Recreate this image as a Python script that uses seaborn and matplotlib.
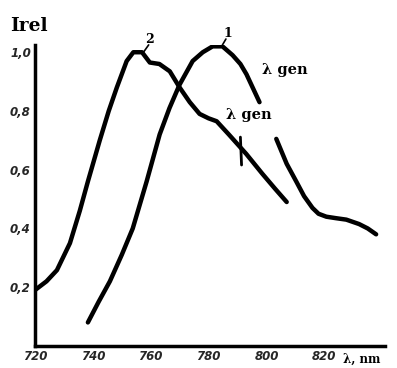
import matplotlib
matplotlib.use("Agg")
import matplotlib.pyplot as plt
import seaborn as sns
import pandas as pd
import numpy as np

# Curve 2 (left curve, peak ~755 nm)
c2_wl = [720, 724, 727.6, 732.1, 735.5, 738.3, 742.4, 745.5, 748.3, 751.7, 754, 757, 759.7, 763, 766.6, 770, 773.5, 776.9, 780, 782.8, 787, 793, 798.6, 803, 807]
c2_i = [0.19, 0.22, 0.258, 0.35, 0.46, 0.56, 0.70, 0.80, 0.88, 0.97, 1.0, 1.0, 0.965, 0.96, 0.935, 0.88, 0.83, 0.79, 0.775, 0.765, 0.72, 0.654, 0.586, 0.535, 0.49]

# Curve 1 (right curve, peak ~783 nm), drawn in two pieces around the label gap
c1a_wl = [738.3, 742, 745.9, 750, 753.8, 758.6, 763.1, 766.5, 770, 774.5, 778, 781.4, 784.8, 788.3, 791, 793.1, 797.6]
c1a_i = [0.08, 0.15, 0.22, 0.31, 0.40, 0.56, 0.72, 0.81, 0.89, 0.97, 1.0, 1.02, 1.02, 0.99, 0.96, 0.925, 0.83]
c1b_wl = [803.4, 807, 810.3, 813, 815.9, 818, 820.7, 824, 827.6, 832, 835, 837.9]
c1b_i = [0.705, 0.62, 0.56, 0.51, 0.47, 0.45, 0.44, 0.435, 0.43, 0.415, 0.40, 0.38]

lambda_gen_2 = 791.0

x_ticks = [720, 740, 760, 780, 800, 820]
x_tick_labels = ["720", "740", "760", "780", "800", "820"]
y_ticks = [0.2, 0.4, 0.6, 0.8, 1.0]
y_tick_labels = ["0,2", "0,4", "0,6", "0,8", "1,0"]

sns.set_theme(style="white")
plt.rcParams['font.family'] = ['DejaVu Sans']

fig = plt.figure(figsize=(3.97, 3.68), dpi=100)
ax = fig.add_axes([0.088, 0.06, 0.882, 0.818])

df2 = pd.DataFrame({"wl": c2_wl, "I": c2_i})
df1a = pd.DataFrame({"wl": c1a_wl, "I": c1a_i})
df1b = pd.DataFrame({"wl": c1b_wl, "I": c1b_i})
for d in (df2, df1a, df1b):
    sns.lineplot(data=d, x="wl", y="I", ax=ax, color="black", lw=3.2,
                 sort=False, estimator=None, solid_capstyle="round")

# lambda_gen marker on curve 2
yg = np.interp(lambda_gen_2, c2_wl, c2_i)
ax.plot([lambda_gen_2, lambda_gen_2 + 0.4], [yg + 0.035, yg - 0.06], color="black", lw=2)

ax.set_xlim(720, 841)
ax.set_ylim(0, 1.025)
ax.set_xticks(x_ticks)
ax.set_xticklabels(x_tick_labels)
ax.set_yticks(y_ticks)
ax.set_yticklabels(y_tick_labels)
ax.set_xlabel("")
ax.set_ylabel("")
for lab in ax.get_xticklabels() + ax.get_yticklabels():
    lab.set_fontweight("bold")
    lab.set_fontstyle("italic")
    lab.set_fontsize(8.5)
ax.tick_params(axis="both", direction="in", length=4, width=2, color="black", pad=3)
for s in ["top", "right"]:
    ax.spines[s].set_visible(False)
for s in ["left", "bottom"]:
    ax.spines[s].set_color("black")
    ax.spines[s].set_linewidth(2.5)

serif = dict(family="DejaVu Serif", fontweight="bold", color="black")
fig.text(0.025, 0.915, "Irel", fontsize=13.5, **serif)
ax.text(826.3, -0.045, "λ, nm", fontsize=8.5, ha="left", va="center", clip_on=False, **serif)
ax.text(806.5, 0.94, "λ gen", fontsize=10.5, ha="center", va="center", **serif)
ax.text(794, 0.785, "λ gen", fontsize=10.5, ha="center", va="center", **serif)
# curve labels
ax.text(759.5, 1.045, "2", fontsize=9, ha="center", va="center", clip_on=False, **serif)
ax.plot([757.5, 759.3], [1.0, 1.025], color="black", lw=1.2, clip_on=False)
ax.text(786.5, 1.065, "1", fontsize=9, ha="center", va="center", clip_on=False, **serif)
ax.plot([784.5, 786], [1.02, 1.045], color="black", lw=1.2, clip_on=False)

fig.savefig("out.png", dpi=100)
